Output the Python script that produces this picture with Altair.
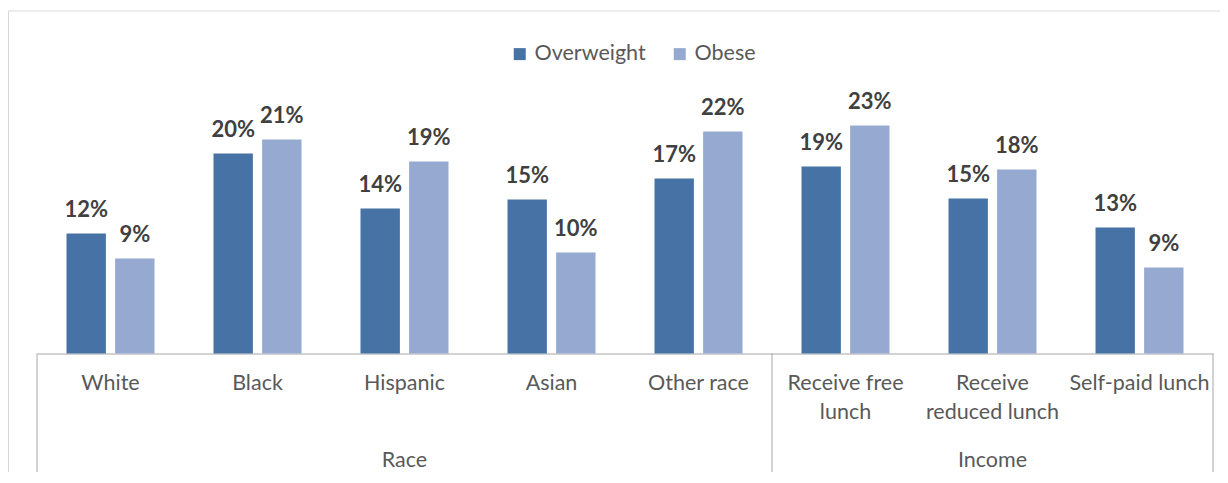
import altair as alt
import pandas as pd

categories = ["White", "Black", "Hispanic", "Asian", "Other race",
              "Receive free\nlunch", "Receive\nreduced lunch", "Self-paid lunch"]
series = ["Overweight", "Obese"]
overweight = [12.0, 20.0, 14.5, 15.4, 17.5, 18.7, 15.5, 12.6]
obese = [9.5, 21.4, 19.2, 10.1, 22.2, 22.8, 18.4, 8.6]
overweight_labels = ["12%", "20%", "14%", "15%", "17%", "19%", "15%", "13%"]
obese_labels = ["9%", "21%", "19%", "10%", "22%", "23%", "18%", "9%"]
group_names = ["Race", "Income"]
group_centre_cat = ["Hispanic", "Receive\nreduced lunch"]
divider_start_cats = ["White", "Receive free\nlunch"]
divider_end_cats = ["Self-paid lunch"]

colors = ["#4672a6", "#95a9d1"]
FONT = "Lato"
W, H = 1176, 250

rows = []
for i, c in enumerate(categories):
    rows.append({"cat": c, "series": "Overweight", "value": overweight[i], "label": overweight_labels[i]})
    rows.append({"cat": c, "series": "Obese", "value": obese[i], "label": obese_labels[i]})
df = pd.DataFrame(rows)
df_groups = pd.DataFrame({"cat": group_centre_cat, "name": group_names})
df_div0 = pd.DataFrame({"cat": divider_start_cats})
df_div1 = pd.DataFrame({"cat": divider_end_cats})
one = pd.DataFrame({"k": [0]})

xscale = alt.Scale(domain=categories, paddingInner=0, paddingOuter=0)
xaxis = alt.Axis(title=None, labelExpr="split(datum.label, '\\n')", labelAngle=0,
                 ticks=False, labelPadding=19, domainColor="#a6a6a6",
                 labelColor="#595959", labelFont=FONT, labelFontSize=21.5,
                 labelLineHeight=29, grid=False)
x = alt.X("cat:N", scale=xscale, sort=categories, axis=xaxis)
xoff = alt.XOffset("series:N", sort=series,
                   scale=alt.Scale(domain=series, paddingInner=0.19, paddingOuter=0.607))
y = alt.Y("value:Q", scale=alt.Scale(domain=[0, 25], nice=False), axis=None)

bars = alt.Chart(df).mark_bar().encode(
    x=x, xOffset=xoff, y=y,
    color=alt.Color("series:N", sort=series,
                    scale=alt.Scale(domain=series, range=colors),
                    legend=alt.Legend(orient="none", legendX=472, legendY=-60.5,
                                      direction="horizontal", title=None,
                                      symbolType="square", symbolSize=144,
                                      symbolStrokeWidth=0, labelFont=FONT,
                                      labelFontSize=21.5, labelColor="#595959",
                                      labelOffset=4, columnPadding=23, padding=0)),
)

labels = alt.Chart(df).mark_text(dy=-17, baseline="alphabetic", fontWeight="bold",
                                 font=FONT, fontSize=22, color="#404040").encode(
    x=x, xOffset=xoff, y=y, text="label:N"
)

group_text = alt.Chart(df_groups).mark_text(font=FONT, fontSize=21.5, color="#595959",
                                            baseline="middle").encode(
    x=alt.X("cat:N", scale=xscale, sort=categories, axis=xaxis),
    y=alt.value(H + 107.5), text="name:N"
)

div0 = alt.Chart(df_div0).mark_rule(color="#a6a6a6", strokeWidth=1).encode(
    x=alt.X("cat:N", scale=xscale, sort=categories, axis=xaxis, bandPosition=0),
    y=alt.value(H), y2=alt.value(H + 125)
)
div1 = alt.Chart(df_div1).mark_rule(color="#a6a6a6", strokeWidth=1).encode(
    x=alt.X("cat:N", scale=xscale, sort=categories, axis=xaxis, bandPosition=1),
    y=alt.value(H), y2=alt.value(H + 125)
)

frame_top = alt.Chart(one).mark_rule(color="#d9d9d9", strokeWidth=1).encode(
    x=alt.value(-28.5), x2=alt.value(W + 30), y=alt.value(-92.5)
)
frame_left = alt.Chart(one).mark_rule(color="#d9d9d9", strokeWidth=1).encode(
    x=alt.value(-28.5), y=alt.value(-92.5), y2=alt.value(H + 140)
)

chart = alt.layer(frame_top, frame_left, bars, labels, group_text, div0, div1).properties(
    width=W, height=H,
    autosize=alt.AutoSizeParams(type="none"),
    padding={"left": 29, "top": 95.5, "right": 7, "bottom": 118},
).configure(background="white", view=alt.ViewConfig(stroke=None))

chart.save("out.html", embed_options={"renderer": "svg", "actions": False})
